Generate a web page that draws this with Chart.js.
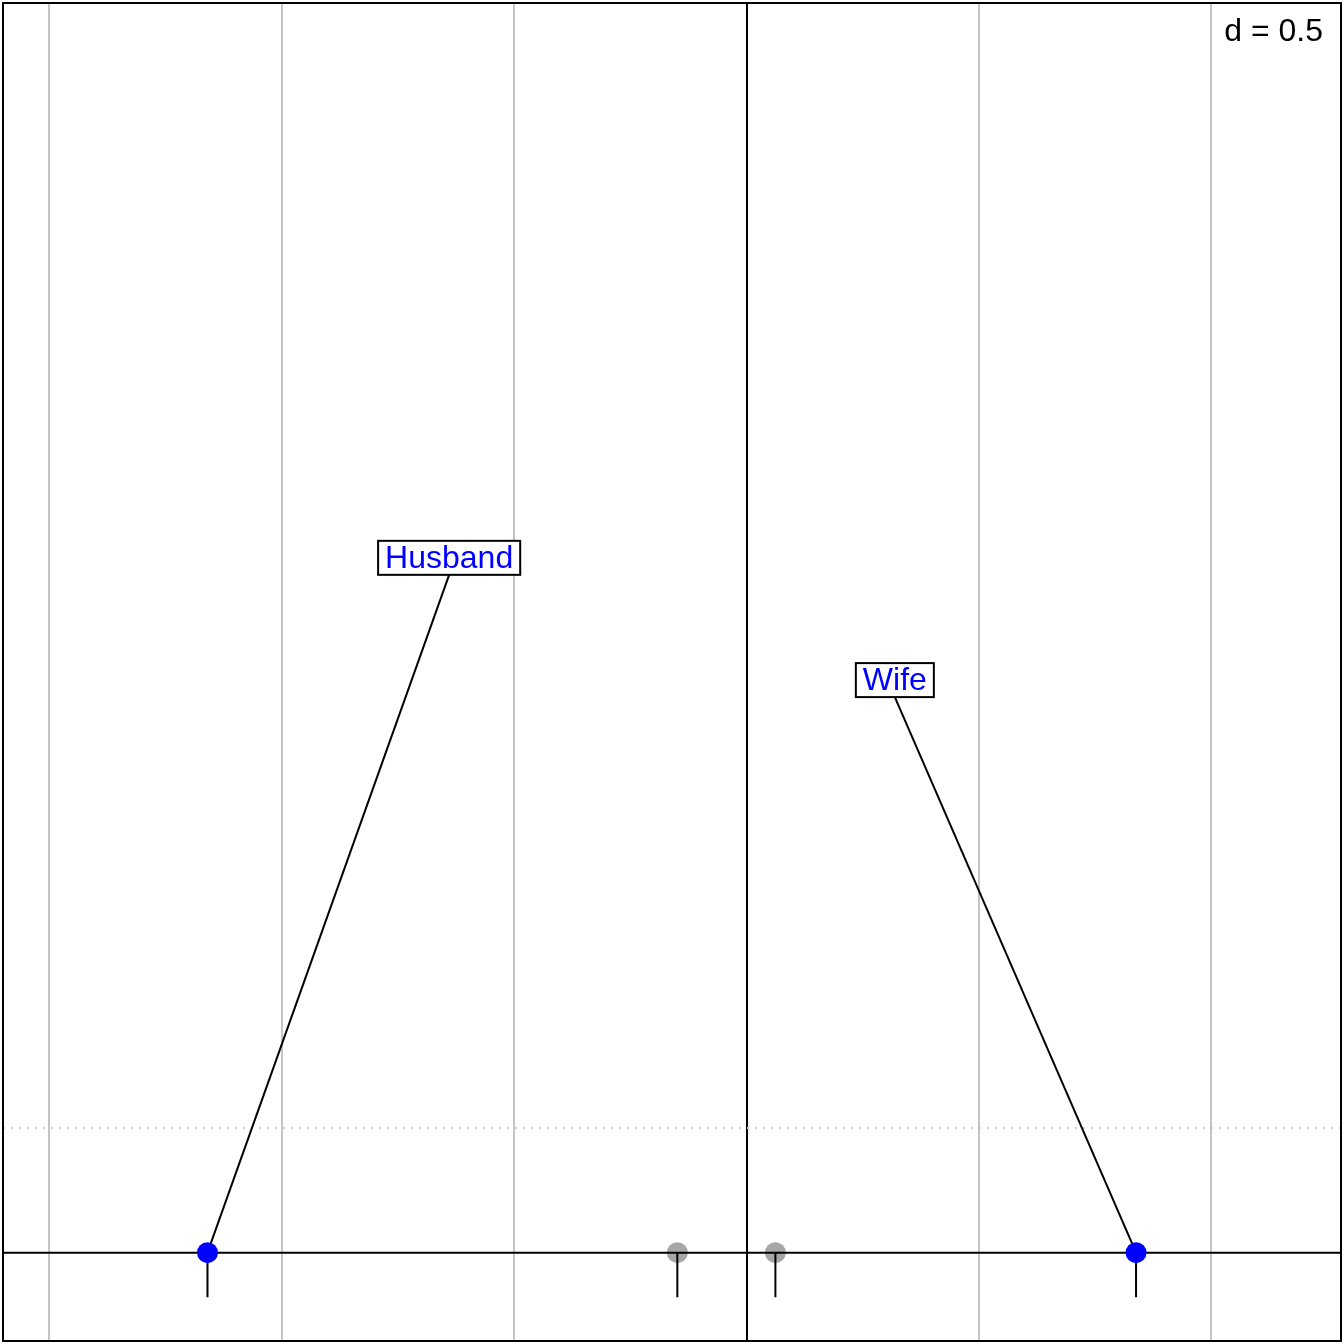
<!DOCTYPE html>
<html>
<head>
<meta charset="utf-8">
<script src="https://cdn.jsdelivr.net/npm/chart.js@4/dist/chart.umd.min.js"></script>
<style>
  body { margin: 0; background: #fff; }
</style>
</head>
<body>
<canvas id="plot" width="1344" height="1344"></canvas>
<script>
// class centres (blue) and the anchor (bottom centre) of their labels
const classNames = ['Husband', 'Wife'];
const classX = [-1.160, 0.838];
const classY = [0, 0];
const labelX = [-0.640, 0.319];
const labelY = [1.458, 1.195];

// individual rows (grey)
const rowX = [-0.149, 0.062];
const rowY = [0, 0];

// axes / grid
const xRange = [-1.600, 1.279];
const yRange = [-0.190, 2.688];
const gridX = [-1.5, -1, -0.5, 0, 0.5, 1];
const gridStep = '0.5';
const dottedY = 0.268;
const rugLength = 0.096;

const allX = classX.concat(rowX);

//Connector lines from centre to label
const connectors = classNames.map((name, i) => ({
    data: [{ x: classX[i], y: classY[i] }, { x: labelX[i], y: labelY[i] }],
    showLine: true,
    borderColor: '#000',
    borderWidth: 2,
    pointRadius: 0,
    order: 3
}));

//Rug ticks under each point
const rugs = allX.map(x => ({
    data: [{ x: x, y: 0 }, { x: x, y: -rugLength }],
    showLine: true,
    borderColor: '#000',
    borderWidth: 2,
    pointRadius: 0,
    order: 4
}));

const datasets = [
    {
        label: 'classes',
        data: classX.map((x, i) => ({ x: x, y: classY[i] })),
        pointRadius: 10.5,
        pointBackgroundColor: '#0000FF',
        pointBorderWidth: 0,
        showLine: false,
        order: 1
    },
    ...connectors,
    ...rugs,
    {
        label: 'zero line',
        data: [{ x: xRange[0], y: 0 }, { x: xRange[1], y: 0 }],
        showLine: true,
        borderColor: '#000',
        borderWidth: 2,
        pointRadius: 0,
        order: 5
    },
    {
        label: 'rows',
        data: rowX.map((x, i) => ({ x: x, y: rowY[i] })),
        pointRadius: 10.5,
        pointBackgroundColor: '#A6A6A6',
        pointBorderWidth: 0,
        showLine: false,
        order: 6
    },
    {
        label: 'dotted',
        data: [{ x: xRange[0], y: dottedY }, { x: xRange[1], y: dottedY }],
        showLine: true,
        borderColor: '#CCCCCC',
        borderWidth: 2,
        borderDash: [2, 6],
        pointRadius: 0,
        order: 7
    }
];

//Label boxes, frame and the d = 0.5 note
const decorations = {
    id: 'decorations',
    afterDatasetsDraw(chart) {
        const ctx = chart.ctx;
        const xs = chart.scales.x;
        const ys = chart.scales.y;
        ctx.save();
        ctx.font = '32px "Liberation Sans", Arial, sans-serif';
        ctx.textAlign = 'center';
        ctx.textBaseline = 'middle';
        classNames.forEach((name, i) => {
            const px = xs.getPixelForValue(labelX[i]);
            const bottom = ys.getPixelForValue(labelY[i]);
            const w = ctx.measureText(name).width + 14;
            const h = 34;
            ctx.fillStyle = '#fff';
            ctx.fillRect(px - w / 2, bottom - h, w, h);
            ctx.lineWidth = 2;
            ctx.strokeStyle = '#000';
            ctx.strokeRect(px - w / 2, bottom - h, w, h);
            ctx.fillStyle = '#0000FF';
            ctx.fillText(name, px, bottom - h / 2 + 1);
        });

        const area = chart.chartArea;
        ctx.textAlign = 'right';
        ctx.fillStyle = '#000';
        ctx.fillText('d = ' + gridStep, area.right - 18, area.top + 29);

        ctx.lineWidth = 2;
        ctx.strokeStyle = '#000';
        ctx.strokeRect(area.left, area.top, area.right - area.left, area.bottom - area.top);
        ctx.restore();
    }
};

new Chart(document.getElementById('plot'), {
    type: 'scatter',
    data: { datasets: datasets },
    plugins: [decorations],
    options: {
        responsive: false,
        animation: false,
        devicePixelRatio: 1,
        layout: { padding: 3, autoPadding: false },
        plugins: {
            legend: { display: false },
            tooltip: { enabled: false }
        },
        scales: {
            x: {
                type: 'linear',
                min: xRange[0],
                max: xRange[1],
                afterBuildTicks: scale => {
                    scale.ticks = gridX.map(v => ({ value: v }));
                },
                ticks: { display: false },
                border: { display: false },
                grid: {
                    drawTicks: false,
                    lineWidth: 2,
                    color: ctx => (ctx.tick && ctx.tick.value === 0) ? '#000' : '#C4C4C4'
                }
            },
            y: {
                type: 'linear',
                min: yRange[0],
                max: yRange[1],
                ticks: { display: false },
                border: { display: false },
                grid: { display: false, drawTicks: false }
            }
        }
    }
});
</script>
</body>
</html>
